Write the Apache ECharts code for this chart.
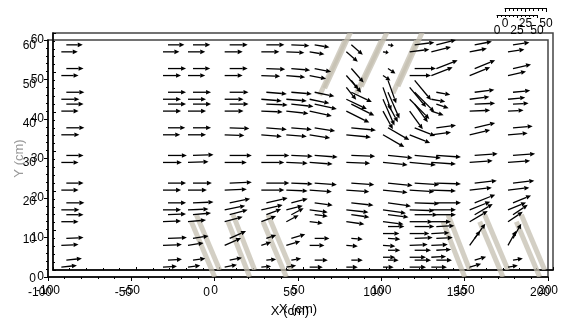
<!DOCTYPE html>
<html>
<head>
<meta charset="utf-8">
<script src="https://cdn.jsdelivr.net/npm/echarts@6/dist/echarts.min.js"></script>
<style>
html, body { margin: 0; padding: 0; background: #fff; }
#chart { width: 566px; height: 323px; }
</style>
</head>
<body>
<div id="chart"></div>
<script>
// measuring heights (cm), top to bottom
const rows = [57, 51, 45, 42, 36, 29, 22, 17, 14, 8, 2.5];
// measuring stations along the channel (cm)
const stations = [-92, -31, -16, 6, 28, 43, 57, 79, 101, 117, 130, 153, 176];
// horizontal velocity per station, one value per row
const uVel = [
    [20, 21, 22, 21, 22, 21, 21, 22, 21, 21, 19],
    [20, 22, 22, 22, 21, 23, 22, 22, 22, 23, 17],
    [21, 21, 22, 22, 22, 25, 23, 25, 22, 19, 15],
    [22, 22, 23, 23, 24, 27, 27, 25, 22, 20, 15],
    [22, 23, 25, 26, 25, 28, 28, 26, 18, 12, 12],
    [22, 23, 25, 27, 25, 26, 26, 20, 15, 17, 12],
    [18, 20, 24, 27, 25, 28, 27, 22, 16, 18, 16],
    [14, 15, 25, 28, 30, 29, 28, 27, 22, 14, 14],
    [7, 9, 14, 12, 26, 30, 30, 28, 25, 15, 13],
    [24, 26, 24, 16, 25, 32, 30, 30, 28, 22, 20],
    [24, 26, 17, 15, 24, 30, 30, 30, 24, 20, 19],
    [21, 25, 24, 25, 25, 28, 27, 25, 22, 13, 14],
    [20, 22, 21, 19, 24, 27, 26, 22, 18, 10, 12],
];
// vertical velocity per station, one value per row
const vVel = [
    [0, 0, 0, 0, 0, 0, 0, 0, 0, 1, 2],
    [0, 0, 0, 0, 0, 0, 0, 0, 1, 1, 1],
    [0, 0, 0, 0, 0, 1, 0, 1, 2, 3, 2],
    [0, 0, 0, 0, -1, 0, 1, 5, 6, 9, 3],
    [0, -1, -2, -1, -2, 0, 0, 6, 7, 4, 1],
    [-1, -2, -2, -3, -2, -1, -1, 5, 8, 5, 2],
    [-3, -4, -5, -6, -4, -2, -2, -3, -2, 0, 0],
    [-12, -17, -12, -14, -3, -1, -2, -3, -3, -1, 0],
    [-1, -6, -32, -22, -15, -3, -3, -4, -3, -1, 0],
    [3, 0, -24, -22, -10, -3, -2, -1, 0, 1, 0],
    [6, 10, -3, -5, 3, -2, -1, 0, 0, 1, 0],
    [4, 10, 3, 1, 6, 2, 3, 10, 13, 18, 4],
    [3, 5, 2, 1, 2, 2, 3, 9, 12, 18, 2],
];
// extra points measured between the regular rows: x, y, u, v
const extraPoints = [
    [79, 48, 12, -15], [101, 48, 10, -28], [117, 48, 20, -24],
    [101, 11, 20, 0], [117, 11, 24, 0], [130, 11, 22, 1],
    [101, 5, 15, 0], [117, 5, 20, 0], [130, 5, 18, 1],
];
// inclined plates: x0, y0, x1, y1 (cm)
const plates = [
    [0, 0, -14, 14], [21, 0, 8, 14], [43, 0, 29, 14],
    [150, 0, 137, 14], [173, 0, 159, 14], [195, 0, 181, 14],
    [63, 46, 81, 62.5], [85, 46.5, 103, 62.5], [107, 46.5, 124, 62.5],
];
const xTicks = [-100, 200, 50];   // min, max, step
const yTicks = [0, 60, 10];
const scaleTicks = [0, 50, 25];   // velocity scale bar

const ARROW_PX = 0.82;            // pixels per velocity unit (scale bar: 50 -> 41px)
const FONT = '"Liberation Sans Narrow", "Liberation Sans", Arial, sans-serif';

const vectors = [];
stations.forEach((x, i) => {
    rows.forEach((y, j) => vectors.push([x, y, uVel[i][j], vVel[i][j]]));
});
extraPoints.forEach(p => vectors.push(p));

function renderArrow(params, api) {
    const p = api.coord([api.value(0), api.value(1)]);
    const dx = api.value(2) * ARROW_PX;
    const dy = -api.value(3) * ARROW_PX;
    const len = Math.hypot(dx, dy);
    if (len < 0.5) return;
    const ux = dx / len, uy = dy / len;
    const tip = [p[0] + dx, p[1] + dy];
    const hl = Math.min(5, len * 0.5), hw = 2.3;
    const base = [tip[0] - ux * hl, tip[1] - uy * hl];
    return {
        type: 'group',
        children: [
            { type: 'line', shape: { x1: p[0], y1: p[1], x2: base[0], y2: base[1] }, style: { stroke: '#000', lineWidth: 1.3 } },
            { type: 'polygon', shape: { points: [tip, [base[0] - uy * hw, base[1] + ux * hw], [base[0] + uy * hw, base[1] - ux * hw]] }, style: { fill: '#000' } },
        ],
    };
}

function renderPlate(params, api) {
    const a = api.coord([api.value(0), api.value(1)]);
    const b = api.coord([api.value(2), api.value(3)]);
    return {
        type: 'line',
        shape: { x1: a[0], y1: a[1], x2: b[0], y2: b[1] },
        style: { stroke: 'rgba(196,191,176,0.75)', lineWidth: 5 },
    };
}

const labelStyle = { color: '#000', fontSize: 12, fontFamily: FONT };

function mainAxis(range, extra) {
    return Object.assign({
        type: 'value', min: range[0], max: range[1], interval: range[2],
        splitLine: { show: false },
        axisLine: { show: true, onZero: false, lineStyle: { color: '#000', width: 1.5 } },
        axisTick: { show: true, length: 4, lineStyle: { color: '#000' } },
        minorTick: { show: true, splitNumber: 5, length: 2, lineStyle: { color: '#000' } },
    }, extra);
}

const chart = echarts.init(document.getElementById('chart'), null, { renderer: 'canvas' });
const gridBox = { width: 500, height: 237 };

chart.setOption({
    animation: false,
    grid: [
        Object.assign({ left: 48, top: 40, show: true, borderColor: '#444', borderWidth: 1.5 }, gridBox),
        Object.assign({ left: 53, top: 33, show: true, borderColor: '#444', borderWidth: 1.5 }, gridBox),
        Object.assign({ left: 40, top: 46 }, gridBox),
        { left: 505, top: 7, width: 41, height: 1 },
        { left: 497, top: 14, width: 40, height: 1 },
    ],
    xAxis: [
        mainAxis(xTicks, {
            gridIndex: 0,
            axisLabel: Object.assign({ margin: 8 }, labelStyle),
            name: 'X (cm)', nameLocation: 'middle', nameGap: 26,
            nameTextStyle: { color: '#000', fontSize: 13, fontFamily: FONT },
        }),
        mainAxis(xTicks, {
            gridIndex: 1,
            axisTick: { show: true, inside: true, length: 3, lineStyle: { color: '#000' } },
            minorTick: { show: true, splitNumber: 5, length: 2, lineStyle: { color: '#000' } },
            axisLabel: { show: false },
        }),
        mainAxis(xTicks, {
            gridIndex: 2,
            axisLine: { show: false, onZero: false }, axisTick: { show: false }, minorTick: { show: false },
            axisLabel: Object.assign({ margin: 8 }, labelStyle),
            name: 'X (cm)', nameLocation: 'middle', nameGap: 26,
            nameTextStyle: { color: '#000', fontSize: 13, fontFamily: FONT },
        }),
        {
            gridIndex: 3, type: 'value', min: scaleTicks[0], max: scaleTicks[1], interval: scaleTicks[2],
            splitLine: { show: false },
            axisLine: { onZero: false, lineStyle: { color: '#000', width: 1 } },
            axisTick: { length: 4, lineStyle: { color: '#000' } },
            minorTick: { show: true, splitNumber: 5, length: 3, lineStyle: { color: '#000' } },
            axisLabel: Object.assign({ margin: 10 }, labelStyle),
        },
        {
            gridIndex: 4, type: 'value', min: scaleTicks[0], max: scaleTicks[1], interval: scaleTicks[2],
            splitLine: { show: false },
            axisLine: { onZero: false, lineStyle: { color: '#000', width: 1 } },
            axisTick: { length: 3, lineStyle: { color: '#000' } },
            minorTick: { show: true, splitNumber: 5, length: 2, lineStyle: { color: '#000' } },
            axisLabel: Object.assign({ margin: 10 }, labelStyle),
        },
    ],
    yAxis: [
        mainAxis(yTicks, {
            gridIndex: 0,
            axisLabel: Object.assign({ margin: 4 }, labelStyle),
            name: 'Y (cm)', nameLocation: 'middle', nameGap: 22, nameRotate: 90, nameMoveOverlap: false,
            nameTextStyle: { color: '#9a9a9a', fontSize: 13, fontFamily: FONT },
        }),
        mainAxis(yTicks, {
            gridIndex: 1,
            axisTick: { show: true, inside: true, length: 3, lineStyle: { color: '#000' } },
            minorTick: { show: true, splitNumber: 5, length: 2, lineStyle: { color: '#000' } },
            axisLabel: { show: false },
        }),
        mainAxis(yTicks, {
            gridIndex: 2,
            axisLine: { show: false, onZero: false }, axisTick: { show: false }, minorTick: { show: false },
            axisLabel: Object.assign({ margin: 4 }, labelStyle),
        }),
        { gridIndex: 3, type: 'value', show: false, min: 0, max: 1 },
        { gridIndex: 4, type: 'value', show: false, min: 0, max: 1 },
    ],
    series: [
        { type: 'custom', xAxisIndex: 0, yAxisIndex: 0, renderItem: renderPlate, data: plates, clip: true, silent: true, z: 1 },
        { type: 'custom', xAxisIndex: 1, yAxisIndex: 1, renderItem: renderPlate, data: plates, clip: true, silent: true, z: 1 },
        { type: 'custom', xAxisIndex: 0, yAxisIndex: 0, renderItem: renderArrow, data: vectors, clip: true, silent: true, z: 3 },
        { type: 'custom', xAxisIndex: 1, yAxisIndex: 1, renderItem: renderArrow, data: vectors, clip: true, silent: true, z: 3 },
    ],
});
</script>
</body>
</html>
